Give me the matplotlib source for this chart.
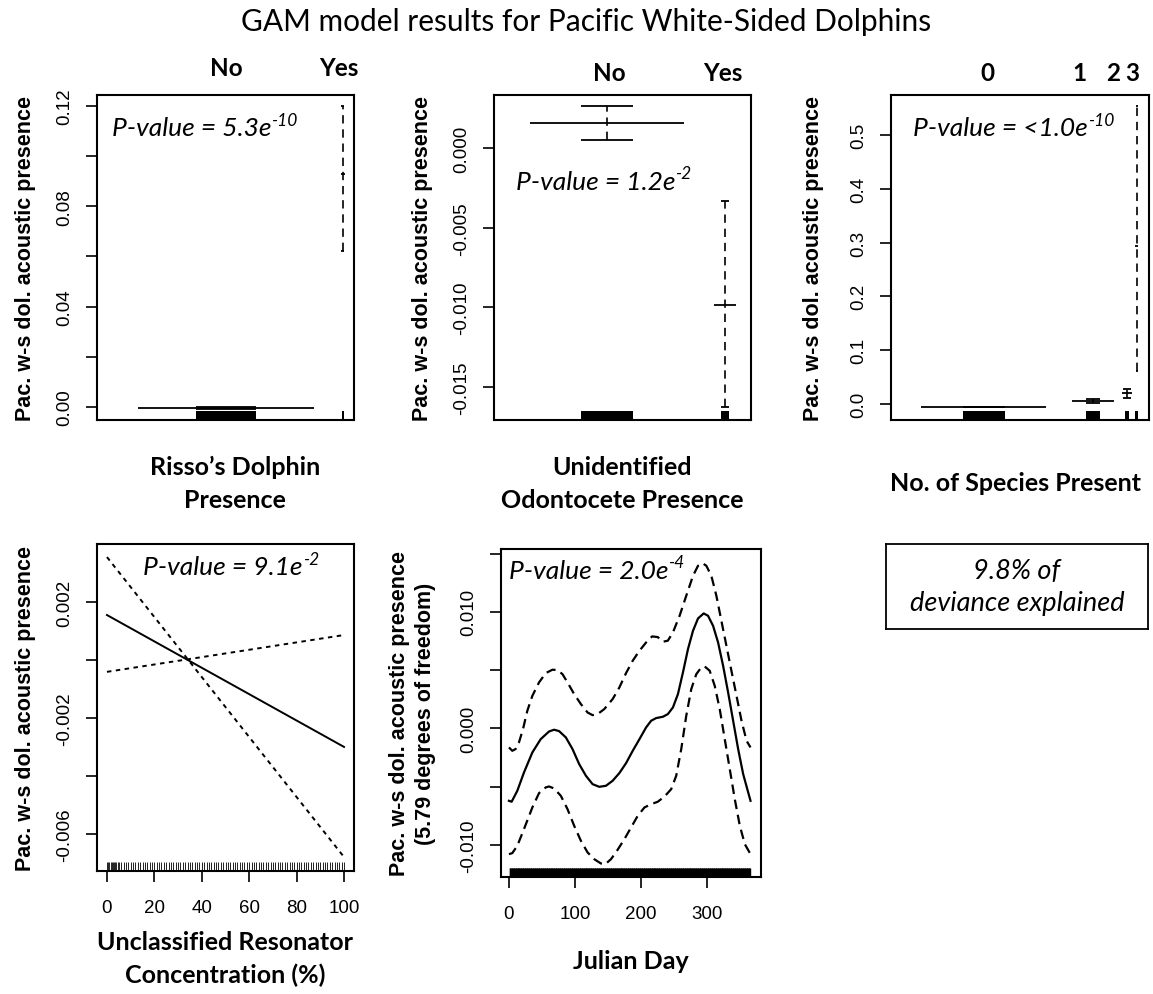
import numpy as np
import matplotlib.pyplot as plt
from matplotlib.patches import Rectangle

# ---- data ----
# panel 1: Risso's dolphin presence (factor)
risso_levels = ["No", "Yes"]
risso_est = [-0.0005, 0.093]
risso_lo = [-0.0008, 0.062]
risso_hi = [-0.0002, 0.120]

# panel 2: unidentified odontocete presence (factor)
odont_levels = ["No", "Yes"]
odont_est = [0.00157, -0.00985]
odont_lo = [0.0005, -0.01627]
odont_hi = [0.00263, -0.00333]

# panel 3: number of species present (factor)
nsp_levels = ["0", "1", "2", "3"]
nsp_est = [-0.0056, 0.0056, 0.0204, 0.294]
nsp_lo = [-0.0058, 0.0019, 0.011, 0.061]
nsp_hi = [-0.0054, 0.0093, 0.028, 0.554]

# panel 4: unclassified resonator concentration (linear term)
conc = [0, 100]
conc_fit = [0.00155, -0.0030]
conc_upper = [-0.00041, 0.00086]
conc_lower = [0.00355, -0.0068]
conc_rug = np.concatenate([np.arange(0, 101), [0.5, 1.5, 2.5, 3.5, 4.5]])

# panel 5: julian day smooth
day = [0, 4.1, 12.7, 22.8, 35.5, 48.1, 60.8, 68.4, 76.0, 86.2, 96.3, 106.4, 116.6,
       126.7, 136.8, 147.0, 157.1, 167.3, 177.4, 187.5, 197.7, 207.8, 215.4, 223.0,
       233.1, 240.7, 248.4, 256.0, 263.6, 271.2, 278.8, 286.4, 295.0, 301.6, 309.2,
       316.8, 324.4, 332.0, 339.6, 347.2, 354.8, 362.4, 365.9]
day_fit = [-0.00621, -0.00629, -0.00535, -0.00378, -0.00206, -0.00092, -0.00026,
           -0.00011, -0.00023, -0.00077, -0.00177, -0.00306, -0.00406, -0.00478,
           -0.00501, -0.00492, -0.00449, -0.00383, -0.00298, -0.00192, -0.00092,
           0.00009, 0.00066, 0.00089, 0.00100, 0.00123, 0.00180, 0.00295, 0.00481,
           0.00681, 0.00838, 0.00944, 0.00987, 0.00967, 0.00881, 0.00738, 0.00538,
           0.00309, 0.00066, -0.00177, -0.00392, -0.00549, -0.00621]
day_up = [0, 5.1, 10.1, 15.2, 21.3, 27.9, 35.5, 45.6, 55.8, 65.9, 73.5, 81.1, 88.7,
          98.8, 109.0, 119.1, 126.7, 134.3, 144.4, 157.1, 167.3, 177.4, 187.5, 197.7,
          207.8, 216.9, 225.5, 233.1, 240.7, 248.4, 258.5, 268.6, 278.8, 286.4, 293.0,
          299.0, 306.6, 314.2, 321.8, 329.4, 337.0, 344.7, 352.3, 359.9, 365.9]
day_upper = [-0.00163, -0.00192, -0.00177, -0.00120, -0.00006, 0.00152, 0.00280,
             0.00395, 0.00475, 0.00504, 0.00501, 0.00466, 0.00395, 0.00295, 0.00209,
             0.00137, 0.00114, 0.00123, 0.00166, 0.00252, 0.00352, 0.00475, 0.00581,
             0.00667, 0.00738, 0.00790, 0.00784, 0.00744, 0.00753, 0.00824, 0.00967,
             0.01139, 0.01310, 0.01396, 0.01419, 0.01396, 0.01310, 0.01139, 0.00924,
             0.00710, 0.00495, 0.00280, 0.00066, -0.00106, -0.00163]
day_lo = [0, 5.1, 12.7, 22.8, 35.5, 45.6, 55.8, 60.8, 68.4, 78.6, 88.7, 98.8, 109.0,
          119.1, 129.2, 139.4, 146.0, 154.6, 164.7, 174.9, 185.0, 195.1, 205.3, 215.4,
          225.5, 235.7, 245.8, 253.4, 261.0, 268.6, 276.2, 283.8, 291.4, 296.5, 304.1,
          311.7, 319.3, 326.9, 334.5, 342.1, 349.7, 357.3, 365.9]
day_lower = [-0.01079, -0.01070, -0.01007, -0.00864, -0.00678, -0.00555, -0.00506,
             -0.00498, -0.00515, -0.00578, -0.00692, -0.00835, -0.00964, -0.01064,
             -0.01122, -0.01159, -0.01165, -0.01122, -0.01041, -0.00950, -0.00850,
             -0.00750, -0.00678, -0.00650, -0.00629, -0.00584, -0.00521, -0.00406,
             -0.00177, 0.00109, 0.00338, 0.00466, 0.00524, 0.00532, 0.00495, 0.00366,
             0.00166, -0.00092, -0.00349, -0.00607, -0.00835, -0.00993, -0.01079]
day_rug = np.arange(1, 366)

pvals = ["5.3e", "1.2e", "<1.0e", "9.1e", "2.0e"]
pexps = ["-10", "-2", "-10", "-2", "-4"]

# ---- layout (pixels of a 1153 x 995 canvas) ----
W, H = 1153, 995
def rect(l, t, r, b):
    return [l / W, 1 - b / H, (r - l) / W, (b - t) / H]

CAL = "Lato"
ARI = "Liberation Sans"
DARK = "black"

fig = plt.figure(figsize=(W / 100, H / 100), dpi=100)

def style(ax):
    for s in ax.spines.values():
        s.set_linewidth(1.5)
    ax.tick_params(direction="out", length=8, width=1.2, labelsize=13.5, pad=5)
    ax.tick_params(axis="y", labelrotation=90, pad=9)
    for lab in ax.get_yticklabels() + ax.get_xticklabels():
        lab.set_fontfamily(ARI)
    for lab in ax.get_yticklabels():
        lab.set_va("center")

def yticks(ax, ticks, labels):
    ax.set_yticks(ticks)
    ax.set_yticklabels(labels)

def ylab(ax, text, x=-0.28):
    ax.set_ylabel(text, fontfamily=ARI, fontweight="bold", fontsize=15.5,
                  linespacing=1.3)
    ax.yaxis.label.set_va("center")
    ax.yaxis.set_label_coords(x, 0.5)

def pval(ax, x, y, base, exp):
    t = ax.text(x, y, "P-value = " + base, transform=ax.transAxes, ha="left",
                va="center", fontfamily=CAL, style="italic", fontsize=19)
    ax.annotate(exp, xy=(1.0, 0.5), xycoords=t, ha="left", va="bottom",
                fontfamily=CAL, style="italic", fontsize=12.5)

def factor(ax, centers, est, lo, hi, est_hw, cap_hw, rug_hw, rug_h=0.027):
    for c, e, l, h, ehw, chw, rhw in zip(centers, est, lo, hi, est_hw, cap_hw, rug_hw):
        ax.hlines(e, c - ehw, c + ehw, color=DARK, lw=1.3)
        ax.vlines(c, l, h, color=DARK, lw=1.2, linestyles=(0, (5, 3.5)))
        ax.hlines([l, h], c - chw, c + chw, color=DARK, lw=1.3)
        ax.add_patch(Rectangle((c - rhw, 0), 2 * rhw, rug_h, color=DARK,
                               transform=ax.get_xaxis_transform(), lw=0))

def toplabels(ax, xs, labels, y=1.085):
    for x, lab in zip(xs, labels):
        ax.text(x, y, lab, transform=ax.get_xaxis_transform(), ha="center",
                va="center", fontfamily=CAL, fontweight="bold", fontsize=17.5)

def figtext(x, y, s, **kw):
    fig.text(x / W, 1 - y / H, s, ha="center", va="center", fontfamily=CAL, **kw)

YLAB = "Pac. w-s dol. acoustic presence"

# panel 1
ax1 = fig.add_axes(rect(97, 96, 354, 421))
factor(ax1, [0.502, 0.957], risso_est, risso_lo, risso_hi,
       [0.344, 0.008], [0.117, 0.006], [0.117, 0.004])
ax1.set_xlim(0, 1)
ax1.set_ylim(-0.0052, 0.1244)
ax1.set_xticks([])
yticks(ax1, [0, 0.02, 0.04, 0.06, 0.08, 0.10, 0.12],
       ["0.00", "", "0.04", "", "0.08", "", "0.12"])
style(ax1)
ylab(ax1, YLAB)
toplabels(ax1, [0.502, 0.94], risso_levels)
pval(ax1, 0.058, 0.9, pvals[0], pexps[0])

# panel 2
ax2 = fig.add_axes(rect(494, 96, 751, 421))
factor(ax2, [0.44, 0.899], odont_est, odont_lo, odont_hi,
       [0.30, 0.043], [0.101, 0.016], [0.101, 0.016])
ax2.set_xlim(0, 1)
ax2.set_ylim(-0.01707, 0.00333)
ax2.set_xticks([])
yticks(ax2, [0, -0.005, -0.010, -0.015], ["0.000", "-0.005", "-0.010", "-0.015"])
style(ax2)
ylab(ax2, YLAB)
toplabels(ax2, [0.45, 0.89], odont_levels, y=1.07)
pval(ax2, 0.085, 0.735, pvals[1], pexps[1])

# panel 3
ax3 = fig.add_axes(rect(891, 96, 1149, 421))
factor(ax3, [0.36, 0.783, 0.915, 0.953], nsp_est, nsp_lo, nsp_hi,
       [0.242, 0.081, 0.021, 0.006], [0.081, 0.027, 0.015, 0.005],
       [0.081, 0.027, 0.008, 0.006])
ax3.set_xlim(0, 1)
ax3.set_ylim(-0.0297, 0.574)
ax3.set_xticks([])
yticks(ax3, [0, 0.1, 0.2, 0.3, 0.4, 0.5], ["0.0", "0.1", "0.2", "0.3", "0.4", "0.5"])
style(ax3)
ylab(ax3, YLAB, x=-0.30)
toplabels(ax3, [0.372, 0.729, 0.86, 0.934], nsp_levels, y=1.07)
pval(ax3, 0.085, 0.9, pvals[2], pexps[2])

# panel 4
ax4 = fig.add_axes(rect(97, 545, 354, 872))
ax4.plot(conc, conc_fit, color=DARK, lw=1.4)
ax4.plot(conc, conc_upper, color=DARK, lw=1.4, dashes=(2.3, 2.3))
ax4.plot(conc, conc_lower, color=DARK, lw=1.4, dashes=(2.3, 2.3))
ax4.vlines(conc_rug, 0, 0.028, transform=ax4.get_xaxis_transform(), color=DARK, lw=0.6)
ax4.set_xlim(-4.2, 104.2)
ax4.set_ylim(-0.00728, 0.0040)
ax4.set_xticks([0, 20, 40, 60, 80, 100])
yticks(ax4, [0.002, 0, -0.002, -0.004, -0.006], ["0.002", "", "-0.002", "", "-0.006"])
style(ax4)
ax4.tick_params(axis="x", pad=12)
ylab(ax4, YLAB)
pval(ax4, 0.18, 0.93, pvals[3], pexps[3])

# panel 5
ax5 = fig.add_axes(rect(501, 550, 761, 878))
ax5.plot(day, day_fit, color=DARK, lw=1.6)
ax5.plot(day_up, day_upper, color=DARK, lw=1.6, dashes=(4.3, 2.6))
ax5.plot(day_lo, day_lower, color=DARK, lw=1.6, dashes=(4.3, 2.6))
ax5.vlines(day_rug, 0, 0.027, transform=ax5.get_xaxis_transform(), color=DARK, lw=1.0)
ax5.set_xlim(-12, 381.8)
ax5.set_ylim(-0.01275, 0.0154)
ax5.set_xticks([0, 100, 200, 300])
yticks(ax5, [0.015, 0.010, 0.005, 0, -0.005, -0.010],
       ["", "0.010", "", "0.000", "", "-0.010"])
style(ax5)
ax5.tick_params(axis="x", pad=12)
ylab(ax5, YLAB + "\n(5.79 degrees of freedom)", x=-0.34)
pval(ax5, 0.03, 0.935, pvals[4], pexps[4])

# deviance box
axb = fig.add_axes(rect(886, 545, 1148, 630))
axb.set_xticks([])
axb.set_yticks([])
for s in axb.spines.values():
    s.set_linewidth(1.3)
axb.text(0.5, 0.5, "9.8% of\ndeviance explained", ha="center", va="center",
         fontfamily=CAL, style="italic", fontsize=19.5, linespacing=1.35)

# titles and x labels
figtext(586, 22, "GAM model results for Pacific White-Sided Dolphins", fontsize=21.5)
figtext(235, 484, "Risso\u2019s Dolphin\nPresence", fontsize=18, fontweight="bold", linespacing=1.5)
figtext(622, 484, "Unidentified\nOdontocete Presence", fontsize=18, fontweight="bold", linespacing=1.5)
figtext(1016, 484, "No. of Species Present", fontsize=18, fontweight="bold")
figtext(225, 959, "Unclassified Resonator\nConcentration (%)", fontsize=18, fontweight="bold", linespacing=1.45)
figtext(631, 962, "Julian Day", fontsize=18, fontweight="bold")

fig.savefig("out.png", dpi=100)
